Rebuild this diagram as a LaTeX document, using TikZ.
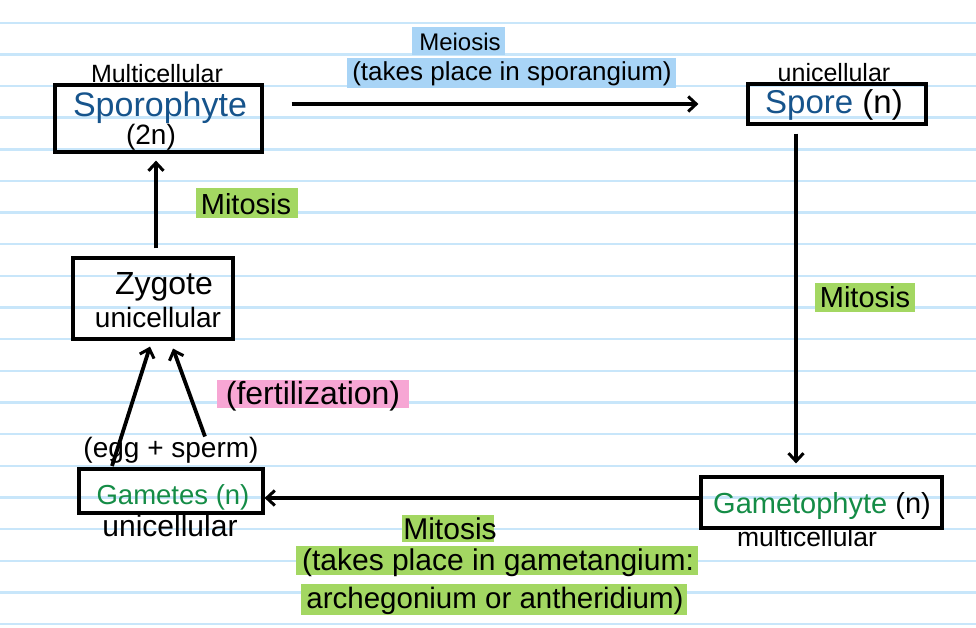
\documentclass[tikz,border=0pt]{standalone}
\usepackage{fontspec}
\setmainfont{Liberation Sans}
\usetikzlibrary{arrows.meta}
\definecolor{paper}{RGB}{200,230,250}
\definecolor{hlblue}{RGB}{168,212,246}
\definecolor{hlgreen}{RGB}{163,215,98}
\definecolor{hlpink}{RGB}{247,166,212}
\definecolor{sporblue}{RGB}{22,84,140}
\definecolor{gamgreen}{RGB}{20,140,70}
\newcommand\fsz[1]{\fontsize{#1}{#1}\selectfont}
\begin{document}
\begin{tikzpicture}[x=1pt,y=-1pt,
  box/.style={draw=black, line width=3.2pt, inner sep=0pt},
  arr/.style={draw=black, line width=3.4pt, -{Straight Barb[length=8pt,width=15pt,line width=3pt]}},
  hlbox/.style={inner sep=0pt, anchor=center},
  lbl/.style={inner sep=0pt, anchor=base}]
\useasboundingbox (0,0) rectangle (976,627);
\fill[white] (0,0) rectangle (976,627);
\foreach \k in {0,...,19} \draw[paper, line width=2.4pt] (0,{22.7+31.65*\k}) -- (976,{22.7+31.65*\k});

% highlights
\node[hlbox, fill=hlblue, minimum width=93pt, minimum height=28pt] (hMei) at (458.5,41) {};
\node[hlbox, fill=hlblue, minimum width=329pt, minimum height=30pt] (hSpg) at (511.5,73) {};
\node[hlbox, fill=hlgreen, minimum width=102pt, minimum height=30pt] (hMitL) at (247,203) {};
\node[hlbox, fill=hlgreen, minimum width=100pt, minimum height=29pt] (hMitR) at (865,297.5) {};
\node[hlbox, fill=hlpink, minimum width=192pt, minimum height=28pt] (hFer) at (313,394) {};
\node[hlbox, fill=hlgreen, minimum width=92pt, minimum height=27pt] (hMitB) at (448,528.5) {};
\node[hlbox, fill=hlgreen, minimum width=402pt, minimum height=29pt] (hGam1) at (497,560.5) {};
\node[hlbox, fill=hlgreen, minimum width=386pt, minimum height=31pt] (hGam2) at (494,599.5) {};

% boxes
\node[box, minimum width=207pt, minimum height=67pt] (spor) at (158.5,118.5) {};
\node[box, minimum width=178pt, minimum height=40pt] (spore) at (837,104) {};
\node[box, minimum width=160pt, minimum height=81pt] (zyg) at (153,298.5) {};
\node[box, minimum width=184pt, minimum height=44pt] (gametes) at (171,491) {};
\node[box, minimum width=241pt, minimum height=51pt] (gameto) at (821.5,502.5) {};

% texts
\node[lbl] (tMulti) at (157,82) {\fsz{25}Multicellular};
\node[lbl, text=sporblue] (tSpor) at (160,116) {\fsz{34}Sporophyte};
\node[lbl] (t2n) at (151,144) {\fsz{28}(2n)};
\node[lbl] (tMei) at (460,50) {\fsz{24}Meiosis};
\node[lbl] (tSpg) at (512,80) {\fsz{26}(takes place in sporangium)};
\node[lbl] (tUni1) at (834,81) {\fsz{25}unicellular};
\node[lbl] (tSpore) at (834,113) {\fsz{33}\textcolor{sporblue}{Spore} (n)};
\node[lbl] (tMitL) at (246,214) {\fsz{29}Mitosis};
\node[lbl] (tMitR) at (865,307) {\fsz{29}Mitosis};
\node[lbl] (tZyg) at (164,294) {\fsz{32}Zygote};
\node[lbl] (tUni2) at (158,327) {\fsz{28}unicellular};
\node[lbl] (tFer) at (313,404) {\fsz{32}(fertilization)};
\node[lbl] (egg) at (171,457) {\fsz{28}(egg + sperm)};
\node[lbl, text=gamgreen] (tGam) at (173,504) {\fsz{27.5}Gametes (n)};
\node[lbl] (tUni3) at (170,536) {\fsz{30}unicellular};
\node[lbl] (tGto) at (822,513) {\fsz{29}\textcolor{gamgreen}{Gametophyte} (n)};
\node[lbl] (tMul2) at (807,546) {\fsz{26.5}multicellular};
\node[lbl] (tMitB) at (450,539) {\fsz{30}Mitosis};
\node[lbl] (tGam1) at (498,570) {\fsz{30}(takes place in gametangium:};
\node[lbl] (tGam2) at (495,608) {\fsz{29.5}archegonium or antheridium)};

% connectors
\draw[arr, shorten <=28pt, shorten >=48pt] (spor.east |- spore.west) -- (spore.west);
\coordinate (sTop) at ([xshift=-41pt]spore.south);
\draw[arr, shorten <=8pt, shorten >=12pt] (sTop) -- (sTop |- gameto.north);
\coordinate (gL) at ([yshift=4.5pt]gameto.west);
\draw[arr] (gL) -- (gL -| gametes.east);
\coordinate (zT) at ([xshift=3pt]zyg.north);
\draw[arr, shorten <=8pt, shorten >=7pt] (zT) -- (zT |- spor.south);
\draw[arr, line width=3.8pt] ([xshift=-59pt,yshift=-3pt]egg.south) -- ([xshift=-3pt,yshift=-6pt]zyg.south);
\draw[arr, line width=3.8pt] ([xshift=34pt]egg.north) -- ([xshift=20pt,yshift=-8pt]zyg.south);
\end{tikzpicture}
\end{document}
